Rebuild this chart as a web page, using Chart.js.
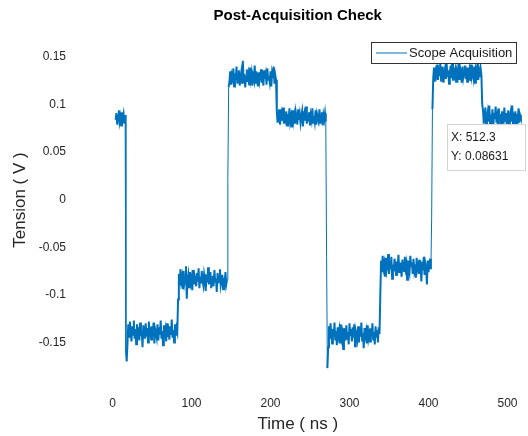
<!DOCTYPE html>
<html>
<head>
<meta charset="utf-8">
<title>Post-Acquisition Check</title>
<script src="https://cdn.jsdelivr.net/npm/chart.js@4.4.1/dist/chart.umd.min.js"></script>
<style>
  html, body { margin: 0; padding: 0; background: #fff; }
  #wrap { width: 528px; height: 436px; position: relative; }
</style>
</head>
<body>
<div id="wrap"><canvas id="scopeChart"></canvas></div>
<script>
// Scope samples, one per ns starting at 4 ns
const firstSampleNs = 4;
const sampleStepNs = 1;

// plateau values (V)
const levelA = [0.084, 0.091, 0.079, 0.088, 0.094, 0.082, 0.087, 0.078, 0.092, 0.085, 0.090, 0.080, 0.089];
const edgeAB = [-0.158, -0.170];
const levelB = [
    -0.150, -0.131, -0.144, -0.128, -0.139, -0.149, -0.133, -0.142, -0.127, -0.146,
    -0.136, -0.152, -0.131, -0.141, -0.134, -0.148, -0.129, -0.143, -0.137, -0.155,
    -0.132, -0.140, -0.146, -0.130, -0.144, -0.135, -0.150, -0.128, -0.141, -0.138,
    -0.147, -0.133, -0.143, -0.129, -0.151, -0.136, -0.140, -0.145, -0.131, -0.148,
    -0.134, -0.142, -0.127, -0.146, -0.138, -0.153, -0.132, -0.141, -0.136, -0.149,
    -0.130, -0.144, -0.139, -0.147, -0.133, -0.142, -0.126, -0.145, -0.137, -0.150,
    -0.131, -0.143, -0.135, -0.139
];
const edgeBC = [-0.105];
const levelC = [
    -0.078, -0.090, -0.073, -0.086, -0.081, -0.094, -0.075, -0.088, -0.083, -0.070,
    -0.104, -0.085, -0.079, -0.092, -0.076, -0.087, -0.082, -0.095, -0.074, -0.089,
    -0.080, -0.084, -0.091, -0.077, -0.086, -0.072, -0.093, -0.081, -0.088, -0.075,
    -0.085, -0.090, -0.078, -0.083, -0.096, -0.079, -0.087, -0.071, -0.089, -0.082,
    -0.076, -0.093, -0.084, -0.080, -0.091, -0.074, -0.086, -0.083, -0.097, -0.077,
    -0.088, -0.081, -0.073, -0.090, -0.085, -0.079, -0.094, -0.082, -0.087, -0.076,
    -0.089, -0.084
];
const edgeCD = [0.020, 0.118];
const levelD = [
    0.124, 0.135, 0.121, 0.131, 0.127, 0.138, 0.119, 0.133, 0.126, 0.140,
    0.122, 0.130, 0.136, 0.120, 0.128, 0.134, 0.123, 0.146, 0.125, 0.132,
    0.118, 0.129, 0.137, 0.124, 0.131, 0.121, 0.139, 0.127, 0.133, 0.120,
    0.130, 0.126, 0.141, 0.122, 0.135, 0.128, 0.119, 0.134, 0.125, 0.131,
    0.137, 0.123, 0.129, 0.120, 0.136, 0.127, 0.132, 0.121, 0.138, 0.126,
    0.130, 0.124, 0.135, 0.119, 0.133, 0.128, 0.140, 0.122, 0.131, 0.126
];
const levelE = [
    0.092, 0.081, 0.089, 0.095, 0.079, 0.086, 0.091, 0.083, 0.097, 0.080,
    0.088, 0.084, 0.093, 0.078, 0.090, 0.085, 0.096, 0.082, 0.087, 0.076,
    0.094, 0.083, 0.089, 0.080, 0.092, 0.086, 0.079, 0.095, 0.084, 0.090,
    0.081, 0.088, 0.093, 0.077, 0.086, 0.091, 0.083, 0.098, 0.080, 0.087,
    0.085, 0.092, 0.078, 0.089, 0.084, 0.096, 0.081, 0.088, 0.082, 0.094,
    0.079, 0.090, 0.086, 0.083, 0.095, 0.080, 0.087, 0.092, 0.078, 0.089,
    0.084, 0.091, 0.082
];
const edgeEF = [-0.060, -0.177];
const levelF = [
    -0.155, -0.133, -0.146, -0.130, -0.141, -0.151, -0.136, -0.144, -0.129, -0.148,
    -0.138, -0.153, -0.134, -0.143, -0.137, -0.150, -0.131, -0.145, -0.140, -0.157,
    -0.135, -0.142, -0.148, -0.132, -0.146, -0.139, -0.152, -0.130, -0.143, -0.136,
    -0.149, -0.134, -0.145, -0.131, -0.154, -0.138, -0.142, -0.147, -0.133, -0.150,
    -0.136, -0.144, -0.129, -0.148, -0.140, -0.156, -0.135, -0.143, -0.138, -0.151,
    -0.132, -0.146, -0.141, -0.149, -0.135, -0.144, -0.130, -0.147, -0.139, -0.152,
    -0.133, -0.145, -0.137, -0.150, -0.134, -0.141
];
const edgeFG = [-0.100];
const levelG = [
    -0.064, -0.076, -0.059, -0.072, -0.067, -0.080, -0.061, -0.074, -0.069, -0.057,
    -0.078, -0.066, -0.073, -0.060, -0.083, -0.068, -0.075, -0.062, -0.071, -0.079,
    -0.065, -0.070, -0.058, -0.077, -0.066, -0.073, -0.081, -0.063, -0.069, -0.075,
    -0.060, -0.072, -0.067, -0.084, -0.064, -0.071, -0.076, -0.059, -0.070, -0.066,
    -0.078, -0.062, -0.074, -0.068, -0.082, -0.061, -0.073, -0.069, -0.077, -0.063,
    -0.071, -0.086, -0.065, -0.074, -0.060, -0.079, -0.067, -0.072, -0.089, -0.064,
    -0.076, -0.069, -0.062, -0.073
];
const edgeGH = [-0.020, 0.095];
const levelH = [
    0.128, 0.139, 0.124, 0.135, 0.131, 0.142, 0.126, 0.137, 0.130, 0.144,
    0.125, 0.134, 0.140, 0.123, 0.132, 0.138, 0.127, 0.143, 0.129, 0.136,
    0.122, 0.133, 0.141, 0.128, 0.148, 0.125, 0.139, 0.131, 0.136, 0.124,
    0.134, 0.130, 0.143, 0.126, 0.138, 0.132, 0.123, 0.140, 0.129, 0.135,
    0.141, 0.127, 0.133, 0.124, 0.139, 0.131, 0.137, 0.125, 0.142, 0.130,
    0.134, 0.128, 0.140, 0.123, 0.136, 0.132, 0.144, 0.126, 0.135, 0.129,
    0.138, 0.131
];
const edgeHI = [0.100];
const levelI = [
    0.094, 0.080, 0.088, 0.097, 0.077, 0.086, 0.092, 0.082, 0.099, 0.079,
    0.089, 0.084, 0.095, 0.076, 0.091, 0.085, 0.098, 0.081, 0.087, 0.074,
    0.096, 0.083, 0.090, 0.078, 0.093, 0.086, 0.080, 0.097, 0.083, 0.091,
    0.079, 0.088, 0.094, 0.076, 0.087, 0.092, 0.082, 0.099, 0.080, 0.088,
    0.085, 0.093, 0.077, 0.090, 0.084, 0.096, 0.081, 0.089, 0.086
];

const xTicks = [0, 100, 200, 300, 400, 500];
const yTicks = [-0.15, -0.1, -0.05, 0, 0.05, 0.1, 0.15];
const dataTip = { x: 512.3, y: 0.08631 };

const titleText = 'Post-Acquisition Check';
const xTitle = 'Time ( ns )';
const yTitle = 'Tension ( V )';
const seriesName = 'Scope Acquisition';

const FONT = '"Liberation Sans", Arial, Helvetica, sans-serif';
const LINE_BLUE = '#0072BD';

const tension = [].concat(
    levelA, edgeAB, levelB, edgeBC, levelC, edgeCD, levelD, levelE,
    edgeEF, levelF, edgeFG, levelG, edgeGH, levelH, edgeHI, levelI
);
const trace = tension.map((v, i) => ({ x: firstSampleNs + i * sampleStepNs, y: v }));

// title, y label, legend box and data tip, drawn the MATLAB way
const matlabDecor = {
    id: 'matlabDecor',
    afterDraw(chart) {
        const { ctx, chartArea } = chart;
        ctx.save();

        ctx.fillStyle = '#000';
        ctx.font = 'bold 15px ' + FONT;
        ctx.textAlign = 'center';
        ctx.textBaseline = 'middle';
        ctx.fillText(titleText, (chartArea.left + chartArea.right) / 2, 16);

        // y axis label (MATLAB centres it a bit higher than the chart area)
        ctx.save();
        ctx.translate(20, 200);
        ctx.rotate(-Math.PI / 2);
        ctx.fillStyle = '#262626';
        ctx.font = '17px ' + FONT;
        ctx.fillText(yTitle, 0, 0);
        ctx.restore();

        // legend
        const lx = 371, ly = 42, lw = 145, lh = 21;
        ctx.fillStyle = '#fff';
        ctx.fillRect(lx, ly, lw, lh);
        ctx.strokeStyle = '#333';
        ctx.lineWidth = 1;
        ctx.strokeRect(lx + 0.5, ly + 0.5, lw, lh);
        ctx.strokeStyle = LINE_BLUE;
        ctx.beginPath();
        ctx.moveTo(lx + 5, ly + 11);
        ctx.lineTo(lx + 36, ly + 11);
        ctx.stroke();
        ctx.fillStyle = '#1a1a1a';
        ctx.font = '13px ' + FONT;
        ctx.textAlign = 'left';
        ctx.fillText(seriesName, lx + 38, ly + 11);

        // data tip box
        const bx = 447, by = 124, bw = 78, bh = 46;
        ctx.fillStyle = 'rgba(255,255,255,0.95)';
        ctx.fillRect(bx, by, bw, bh);
        ctx.strokeStyle = '#d4d4d4';
        ctx.strokeRect(bx + 0.5, by + 0.5, bw, bh);
        ctx.fillStyle = '#1a1a1a';
        ctx.font = '12px ' + FONT;
        ctx.fillText('X: ' + dataTip.x, bx + 4, by + 14);
        ctx.fillText('Y: ' + dataTip.y, bx + 4, by + 33);

        ctx.restore();
    }
};

new Chart(document.getElementById('scopeChart'), {
    type: 'line',
    data: {
        datasets: [
            {
                label: seriesName,
                data: trace,
                borderColor: LINE_BLUE,
                borderWidth: 2,
                pointRadius: 0,
                tension: 0,
                // steep edges are thin on the scope trace, the noisy plateaus look solid
                segment: {
                    borderWidth: c => Math.abs(c.p1.parsed.y - c.p0.parsed.y) > 0.05 ? 1 : 2
                }
            },
            {
                label: 'Data tip',
                data: [dataTip],
                showLine: false,
                pointStyle: 'rect',
                pointRadius: 4,
                borderColor: '#fff',
                borderWidth: 1.5,
                backgroundColor: LINE_BLUE
            }
        ]
    },
    options: {
        responsive: true,
        maintainAspectRatio: false,
        animation: false,
        layout: { padding: { top: 38, left: 0, right: 0, bottom: 0 } },
        plugins: {
            legend: { display: false },
            title: { display: false },
            tooltip: { enabled: false }
        },
        scales: {
            x: {
                type: 'linear',
                min: -50,
                max: 519,
                grid: { display: false, drawTicks: false },
                border: { display: false },
                afterBuildTicks: scale => { scale.ticks = xTicks.map(v => ({ value: v })); },
                afterFit: scale => { scale.height = 46; },
                ticks: {
                    padding: 6,
                    color: '#262626',
                    font: { family: FONT, size: 12 },
                    maxRotation: 0
                },
                title: {
                    display: true,
                    text: xTitle,
                    color: '#262626',
                    font: { family: FONT, size: 17 },
                    padding: { top: 0, bottom: 1 }
                }
            },
            y: {
                min: -0.2,
                max: 0.17,
                grid: { display: false, drawTicks: false },
                border: { display: false },
                afterBuildTicks: scale => { scale.ticks = yTicks.map(v => ({ value: v })); },
                afterFit: scale => { scale.width = 73; },
                ticks: {
                    padding: 7,
                    color: '#262626',
                    font: { family: FONT, size: 12 },
                    callback: v => String(Math.round(v * 100) / 100)
                }
            }
        }
    },
    plugins: [matlabDecor]
});
</script>
</body>
</html>
